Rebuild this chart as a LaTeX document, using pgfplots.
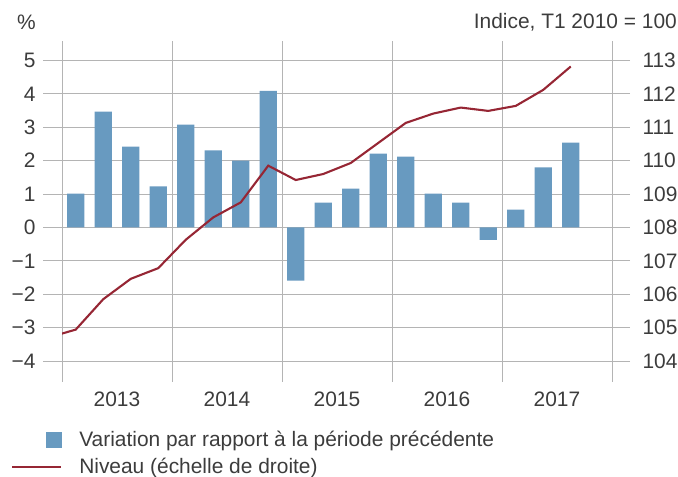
\documentclass[border=0pt]{standalone}
\usepackage{fontspec}
\setmainfont{Liberation Sans}
\usepackage{pgfplots}
\pgfplotsset{compat=1.18}
\definecolor{barblue}{RGB}{104,154,192}
\definecolor{linered}{RGB}{150,38,52}
\definecolor{gridgray}{RGB}{180,180,180}
\definecolor{txt}{RGB}{60,60,60}
\begin{document}
\begin{tikzpicture}[font=\fontsize{21}{24}\selectfont]
\path[use as bounding box] (0,0) rectangle (678bp,477bp);
\begin{axis}[
  at={(62bp,95bp)}, anchor=south west,
  scale only axis, width=550bp, height=341bp,
  xmin=0, xmax=20, ymin=-4.63, ymax=5.584,
  axis line style={draw=none},
  xtick={0,4,...,20}, xticklabels={2013,2014,2015,2016,2017},
  x tick label as interval,
  xmajorgrids, ymajorgrids,
  grid style={gridgray, line width=0.8bp},
  ytick={-4,...,5}, yticklabels={−4,−3,−2,−1,0,1,2,3,4,5},
  ytick pos=left, xtick pos=bottom,
  tick align=outside, major tick length=19bp,
  xtick style={draw=none},
  ytick style={gridgray, line width=0.8bp},
  xticklabel style={yshift=13bp, text=txt},
  yticklabel style={text=txt, xshift=-4bp},
  ybar, bar width=0.62,
]
\addplot[fill=barblue, draw=none] coordinates {
(0.5,1.01) (1.5,3.47) (2.5,2.42) (3.5,1.23)
(4.5,3.08) (5.5,2.31) (6.5,2.00) (7.5,4.09)
(8.5,-1.59) (9.5,0.74) (10.5,1.16) (11.5,2.21)
(12.5,2.12) (13.5,1.01) (14.5,0.74) (15.5,-0.37)
(16.5,0.53) (17.5,1.80) (18.5,2.54)};
\end{axis}
\begin{axis}[
  at={(62bp,95bp)}, anchor=south west,
  scale only axis, width=550bp, height=341bp,
  xmin=0, xmax=20, ymin=103.37, ymax=113.584,
  axis line style={draw=none},
  xtick=\empty,
  ytick={104,...,113},
  ytick pos=right,
  tick align=outside, major tick length=18bp,
  ytick style={gridgray, line width=0.8bp},
  /pgf/number format/assume math mode=true,
  yticklabel style={text=txt, xshift=9bp},
  legend cell align=left,
  legend style={at={(-0.0927,-0.138)}, anchor=north west, draw=none, fill=none,
    text=txt, row sep=6bp, inner sep=0pt},
]
\addlegendimage{legend image code/.code={\path[draw=none,fill=none] (0bp,0bp) -- (65bp,0bp);\fill[barblue] (34bp,-7.5bp) rectangle (49bp,7.5bp);}}
\addlegendentry{Variation par rapport à la période précédente}
\addplot[linered, line width=2.1bp, legend image code/.code={\path[draw=none,fill=none] (0bp,0bp) -- (65bp,0bp);\draw[linered, line width=2.1bp] (0bp,0bp) -- (49bp,0bp);}] coordinates {
(-0.5,104.70) (0.5,104.94) (1.5,105.85) (2.5,106.46) (3.5,106.78)
(4.5,107.63) (5.5,108.30) (6.5,108.75) (7.5,109.85)
(8.5,109.42) (9.5,109.60) (10.5,109.93) (11.5,110.53)
(12.5,111.13) (13.5,111.41) (14.5,111.59) (15.5,111.49)
(16.5,111.64) (17.5,112.12) (18.5,112.82)};
\addlegendentry{Niveau (échelle de droite)}
\end{axis}
\node[anchor=west, text=txt, inner sep=0pt] at (17bp,455bp) {\%};
\node[anchor=east, text=txt, inner sep=0pt] at (677bp,455bp) {Indice, T1 2010 = 100};
\end{tikzpicture}
\end{document}
